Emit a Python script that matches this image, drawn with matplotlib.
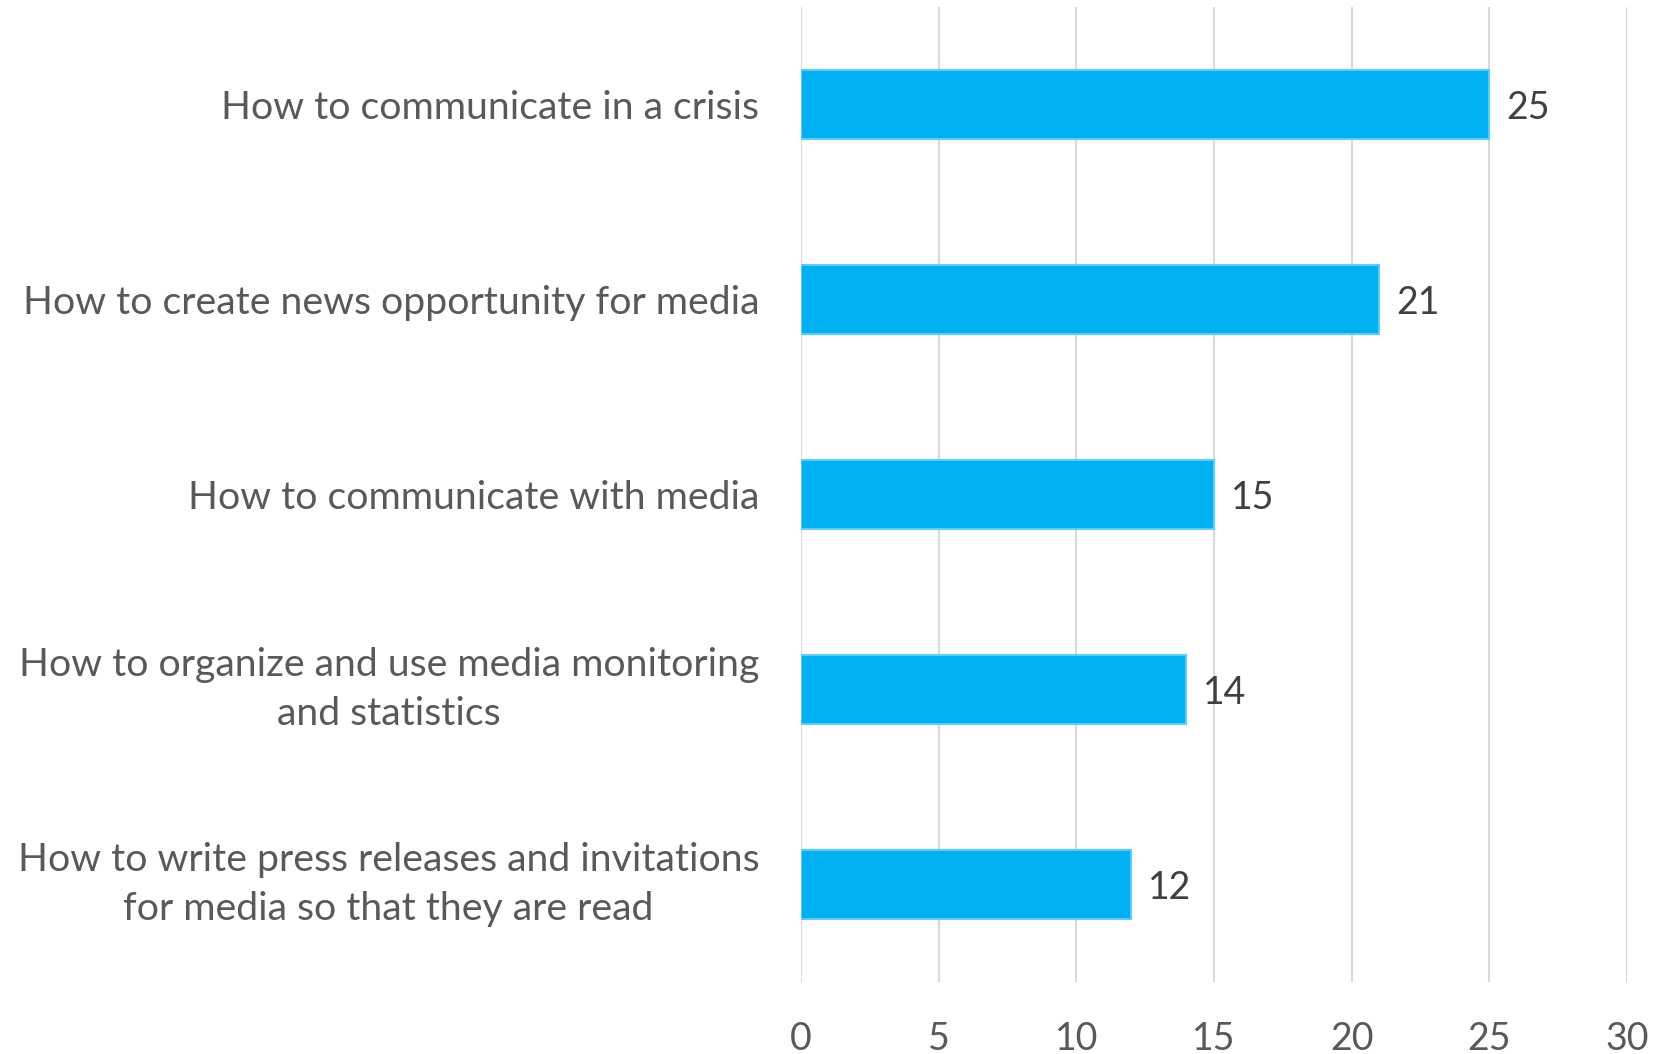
import matplotlib
matplotlib.use("Agg")
import matplotlib.pyplot as plt

plt.rcParams['font.family'] = ['Lato', 'DejaVu Sans']

topics = [
    "How to communicate in a crisis",
    "How to create news opportunity for media",
    "How to communicate with media",
    "How to organize and use media monitoring\nand statistics",
    "How to write press releases and invitations\nfor media so that they are read",
]
counts = [25, 21, 15, 14, 12]
xticks = [0, 5, 10, 15, 20, 25, 30]

bar_color = "#00B0F0"
edge_color = "#5CCDF6"
grid_color = "#D9D9D9"
label_color = "#595959"
value_color = "#404040"

fig = plt.figure(figsize=(16.55, 10.54), dpi=100)
ax = fig.add_axes([0.484, 0.0683, 0.499, 0.9251])

ypos = list(range(len(topics)))
bars = ax.barh(ypos, counts, height=0.352, color=bar_color,
               edgecolor=edge_color, linewidth=1.5, zorder=3)

for b, v in zip(bars, counts):
    ax.annotate(str(v), xy=(b.get_width(), b.get_y() + b.get_height() / 2),
                xytext=(12, 0), textcoords="offset points",
                va="center_baseline", ha="left", fontsize=27, color=value_color)

ax.set_xlim(0, 30)
ax.set_ylim(len(topics) - 0.5, -0.5)
ax.set_xticks(xticks)
ax.set_yticks(ypos)
ax.set_yticklabels(topics, fontsize=28.3, color=label_color,
                   multialignment="center", linespacing=1.45)
# two-line labels sit centred on the bar
for lbl in ax.get_yticklabels():
    if "\n" in lbl.get_text():
        lbl.set_va("center")
ax.tick_params(axis="x", length=0, pad=28, labelsize=27, labelcolor=label_color)
ax.tick_params(axis="y", length=0, pad=30)

ax.grid(axis="x", color=grid_color, linewidth=1.5, zorder=0)
for s in ax.spines.values():
    s.set_visible(False)

fig.savefig("out.png", dpi=100)
